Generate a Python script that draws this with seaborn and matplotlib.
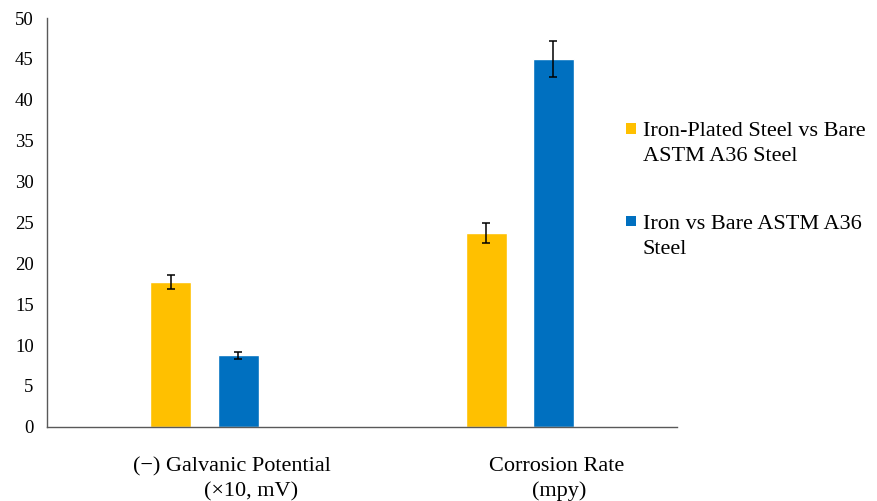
import numpy as np
import pandas as pd
import seaborn as sns
import matplotlib.pyplot as plt
from matplotlib.patches import Rectangle
from matplotlib.legend_handler import HandlerPatch

categories = ['(\u2212) Galvanic Potential\n(\u00d710, mV)', 'Corrosion Rate\n(mpy)']
series = ['Iron-Plated Steel vs Bare\nASTM A36 Steel', 'Iron vs Bare ASTM A36\nSteel']
plated_vals = [17.7, 23.7]
plated_err = [0.9, 1.2]
iron_vals = [8.75, 45.0]
iron_err = [0.45, 2.25]
colors = ['#FFC000', '#0070C0']

df = pd.DataFrame({
    'Category': categories * 2,
    'Series': [series[0]] * 2 + [series[1]] * 2,
    'Value': plated_vals + iron_vals,
    'Err': plated_err + iron_err,
})

sns.set_style('white')
plt.rcParams['font.family'] = ['Liberation Serif', 'DejaVu Serif']
plt.rcParams['text.color'] = 'black'
plt.rcParams['xtick.color'] = 'black'
plt.rcParams['ytick.color'] = 'black'

fig = plt.figure(figsize=(8.77, 5.01), dpi=100)
ax = fig.add_axes([0.0535, 0.148, 0.719, 0.816])

sns.barplot(data=df, x='Category', y='Value', hue='Series', palette=colors,
            width=0.427, gap=0.39, errorbar=None, ax=ax, saturation=1)

# error bars at the bar centres
for cont, s in zip(ax.containers, series):
    sub = df[df.Series == s]
    xs = [p.get_x() + p.get_width() / 2 for p in cont.patches]
    ax.errorbar(xs, sub.Value.values, yerr=sub.Err.values, fmt='none',
                ecolor='black', elinewidth=1.1, capsize=2.6, capthick=1.1)

ax.set_ylim(0, 50)
ax.set_yticks(np.arange(0, 51, 5))
ax.set_xlim(-0.5, 1.5)
ax.set_xticks([-0.5, 0.5, 1.5])
ax.set_xticklabels([])
ax.tick_params(axis='x', which='major', length=5, color='#595959', width=1)
ax.tick_params(axis='y', length=4.5, color='#595959', width=1, labelsize=13.5, pad=5)
ax.set_xlabel('')
ax.set_ylabel('')

# category labels, each line centred on its own (as in the original)
line_shift = [(0.086, 0.146), (0.117, 0.125)]
for i, cat in enumerate(categories):
    for j, line in enumerate(cat.split('\n')):
        ax.text(i + line_shift[i][j], -0.097 - j * 0.061, line, transform=ax.get_xaxis_transform(),
                ha='center', va='center', fontsize=16)

for side in ['top', 'right']:
    ax.spines[side].set_visible(False)
for side in ['left', 'bottom']:
    ax.spines[side].set_color('#595959')
    ax.spines[side].set_linewidth(1)


class TopSquare(HandlerPatch):
    # square beside the first line of a two-line label
    def create_artists(self, legend, orig_handle, xdescent, ydescent, width, height, fontsize, trans):
        s = 0.46 * fontsize
        p = Rectangle((-xdescent, 0.78 * fontsize), s, s, facecolor=orig_handle.get_facecolor(),
                      edgecolor='none', transform=trans)
        return [p]


handles, labels = ax.get_legend_handles_labels()
leg = ax.legend(handles, labels, loc='upper left', bbox_to_anchor=(626 / 877, 1 - 122 / 501),
                bbox_transform=fig.transFigure, frameon=False, fontsize=16,
                handlelength=0.46, handleheight=0.46, handletextpad=0.3, labelspacing=2.2,
                borderpad=0, borderaxespad=0,
                handler_map={h: TopSquare() for h in handles})
for t in leg.get_texts():
    t.set_linespacing(1.42)

fig.savefig('out.png', dpi=100)
